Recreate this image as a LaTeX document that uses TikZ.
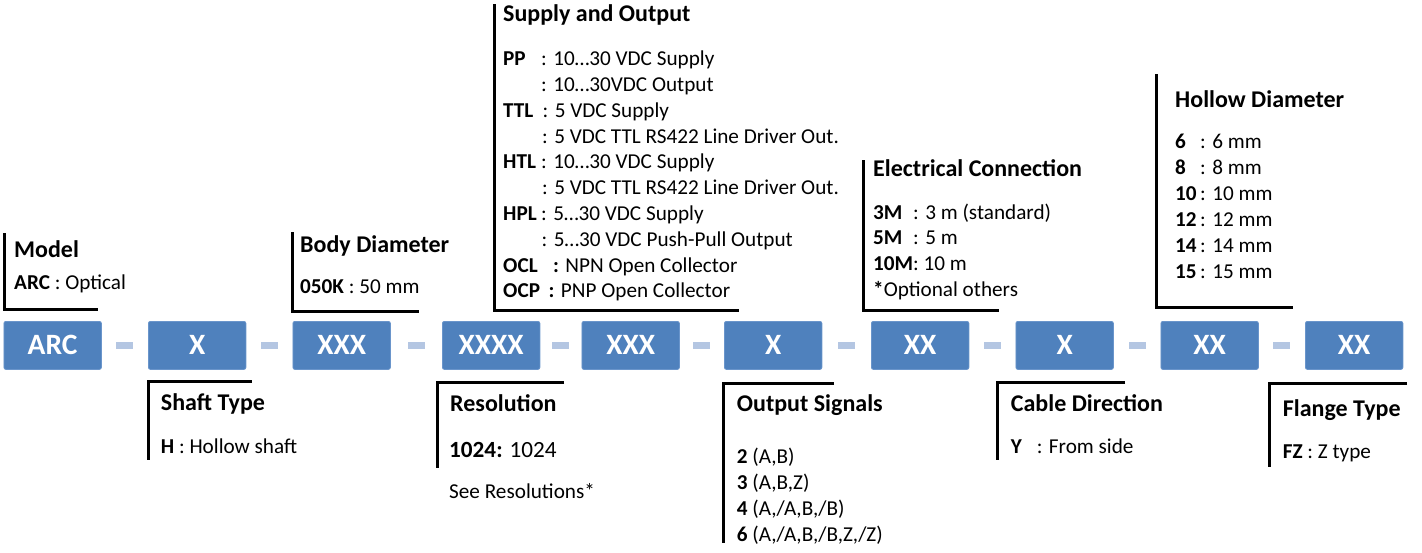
\documentclass[tikz,border=0pt]{standalone}
\usepackage{fontspec}
\usepackage{graphicx}
\setmainfont{Carlito}
\usetikzlibrary{calc}
\definecolor{boxblue}{HTML}{4F81BD}
\definecolor{boxedge}{HTML}{6A95CB}
\definecolor{dashblue}{HTML}{B4C6E2}
\newcommand{\kv}[3]{\makebox[#1][l]{\textbf{#2}}#3}
\begin{document}
\begin{tikzpicture}[x=1pt,y=-1pt,
  codebox/.style={fill=boxblue,draw=boxedge,line width=0.8pt,rounded corners=2pt,
    minimum width=97.5pt,minimum height=48pt,inner sep=0pt,anchor=north west,
    text=white,font=\fontsize{29.5}{29.5}\selectfont\bfseries},
  sepbar/.style={fill=dashblue,minimum width=17pt,minimum height=7pt,inner sep=0pt},
  ttl/.style={anchor=base west,inner sep=0pt,font=\fontsize{24}{28}\selectfont\bfseries},
  txt/.style={anchor=base west,inner sep=0pt,font=\fontsize{21.2}{25}\selectfont},
  bigtxt/.style={anchor=base west,inner sep=0pt,font=\fontsize{23.2}{27}\selectfont},
  brk/.style={line width=3pt,draw=black}]
\useasboundingbox (0,0) rectangle (1422,552);
% code boxes
\node[codebox] (b1) at (3.5,321) {ARC};
\node[codebox] (b2) at (148,321) {X};
\node[codebox] (b3) at (292.5,321) {XXX};
\node[codebox] (b4) at (442,321) {XXXX};
\node[codebox] (b5) at (581.5,321) {XXX};
\node[codebox] (b6) at (724,321) {X};
\node[codebox] (b7) at (871,321) {XX};
\node[codebox] (b8) at (1015.5,321) {X};
\node[codebox] (b9) at (1160.5,321) {XX};
\node[codebox] (b10) at (1305,321) {XX};
\foreach \a/\b in {1/2,2/3,3/4,4/5,5/6,6/7,7/8,8/9,9/10}
  \node[sepbar] (s\a) at ($(b\a.east)!0.5!(b\b.west)$) {};
% brackets above
\draw[brk] (4,233) -- (4,309) -- (98,309);
\draw[brk] (292.5,232) -- (292.5,311) -- (419,311);
\draw[brk] (494,4) -- (494,310) -- (739,310);
\draw[brk] (863,160) -- (863,310) -- (999,310);
\draw[brk] (1156,74) -- (1156,307) -- (1293,307);
% brackets below
\draw[brk] (251.5,381) -- (148.5,381) -- (148.5,460);
\draw[brk] (564,382) -- (437,382) -- (437,468);
\draw[brk] (834,383) -- (723.5,383) -- (723.5,543);
\draw[brk] (1125,382) -- (997,382) -- (997,460);
\draw[brk] (1407,383) -- (1269,383) -- (1269,467);
% Model
\node[ttl] (mt) at (14,257) {Model};
\node[txt] (m1) at (14,289) {\textbf{ARC} : Optical};
% Body diameter
\node[ttl] (bt) at (300,252) {Body Diameter};
\node[txt] (bd1) at (300,293) {\textbf{050K} : 50 mm};
% Supply and output
\node[ttl] (st) at (503,21) {Supply and Output};
\node[txt] (so1) at (503,65.7) {\kv{38pt}{PP}{: 10…30 VDC Supply}};
\node[txt] (so2) at (503,91.5) {\kv{38pt}{}{: 10…30VDC Output}};
\node[txt] (so3) at (503,117.3) {\kv{39.5pt}{TTL}{: 5 VDC Supply}};
\node[txt] (so4) at (503,143.1) {\kv{39pt}{}{: 5 VDC TTL RS422 Line Driver Out.}};
\node[txt] (so5) at (503,168.9) {\kv{38pt}{HTL}{: 10…30 VDC Supply}};
\node[txt] (so6) at (503,194.7) {\kv{39pt}{}{: 5 VDC TTL RS422 Line Driver Out.}};
\node[txt] (so7) at (503,220.5) {\kv{38pt}{HPL}{: 5…30 VDC Supply}};
\node[txt] (so8) at (503,246.3) {\kv{38.5pt}{}{: 5…30 VDC Push-Pull Output}};
\node[txt] (so9) at (503,272.1) {\kv{50pt}{OCL}{\textbf{:} NPN Open Collector}};
\node[txt] (so10) at (503,297.9) {\kv{45.5pt}{OCP}{\textbf{:} PNP Open Collector}};
% Electrical connection
\node[ttl] (et) at (873,176) {Electrical Connection};
\node[txt] (e1) at (873,219) {\kv{40pt}{3M}{: 3 m (standard)}};
\node[txt] (e2) at (873,244.7) {\kv{40pt}{5M}{: 5 m}};
\node[txt] (e3) at (873,270.4) {\textbf{10M}: 10 m};
\node[txt] (e4) at (873,296) {\textbf{*}Optional others};
% Hollow diameter
\node[ttl] (ht) at (1175,107.3) {Hollow Diameter};
\node[txt] (h1) at (1175,148.3) {\kv{25pt}{6}{: 6 mm}};
\node[txt] (h2) at (1175,174.4) {\kv{25pt}{8}{: 8 mm}};
\node[txt] (h3) at (1175,200.5) {\kv{25pt}{10}{: 10 mm}};
\node[txt] (h4) at (1175,226.6) {\kv{25pt}{12}{: 12 mm}};
\node[txt] (h5) at (1175,252.7) {\kv{25pt}{14}{: 14 mm}};
\node[txt] (h6) at (1175,278.8) {\kv{25pt}{15}{: 15 mm}};
% Shaft type
\node[ttl] (sht) at (160.7,410) {Shaft Type};
\node[txt] (sh1) at (160.7,453.3) {\textbf{H} : Hollow shaft};
% Resolution
\node[ttl] (rt) at (450,411.7) {Resolution};
\node[bigtxt] (r1) at (449,457.3) {\textbf{1024:} 1024};
\node[txt] (r2) at (449,498.3) {See Resolutions*};
% Output signals
\node[ttl] (ot) at (736.7,411.7) {Output Signals};
\node[txt] (o1) at (736.7,463.3) {\textbf{2} (A,B)};
\node[txt] (o2) at (736.7,489.3) {\textbf{3} (A,B,Z)};
\node[txt] (o3) at (736.7,515.3) {\textbf{4} (A,/A,B,/B)};
\node[txt] (o4) at (736.7,541.3) {\textbf{6} (A,/A,B,/B,Z,/Z)};
% Cable direction
\node[ttl] (ct) at (1010.7,411.7) {Cable Direction};
\node[txt] (c1) at (1010.7,453.3) {\kv{26pt}{Y}{: From side}};
% Flange type
\node[ttl] (ft) at (1282.7,416.7) {Flange Type};
\node[txt] (f1) at (1282.7,458.3) {\textbf{FZ} : Z type};
\end{tikzpicture}
\end{document}
